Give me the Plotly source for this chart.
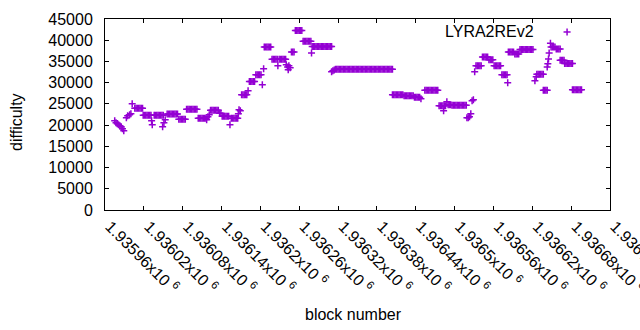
import plotly.graph_objects as go

# block numbers (x) and difficulty (y)
blocks = [
    1935975, 1935977, 1935979, 1935981, 1935983, 1935985, 1935987, 1935989,
    1935993, 1935995, 1935998, 1936000,
    1936002,
    1936006, 1936008, 1936010, 1936012, 1936014, 1936016, 1936018,
    1936019, 1936021, 1936023, 1936025, 1936027, 1936029, 1936031,
    1936032, 1936033,
    1936036, 1936038, 1936040, 1936042, 1936044, 1936046, 1936048, 1936050,
    1936049, 1936051, 1936053,
    1936056, 1936058, 1936060, 1936062, 1936064, 1936066, 1936068, 1936070, 1936072,
    1936074, 1936076, 1936078, 1936080, 1936082, 1936084,
    1936086, 1936088, 1936090, 1936092, 1936094, 1936096, 1936098, 1936100, 1936102,
    1936104, 1936106, 1936108, 1936110, 1936112, 1936114, 1936116,
    1936117, 1936119, 1936121,
    1936123, 1936125, 1936127, 1936129, 1936131, 1936133, 1936135,
    1936137, 1936139,
    1936141, 1936143, 1936145, 1936147, 1936149, 1936151,
    1936153,
    1936155, 1936157, 1936159, 1936161, 1936163, 1936165,
    1936166, 1936167, 1936169,
    1936171, 1936173, 1936175, 1936177, 1936179, 1936181,
    1936183, 1936185, 1936187, 1936189, 1936191,
    1936193, 1936195, 1936197, 1936199, 1936201,
    1936203, 1936205,
    1936206, 1936208, 1936210, 1936212, 1936214, 1936216,
    1936218, 1936220, 1936222, 1936224, 1936226,
    1936227,
    1936229, 1936231, 1936233, 1936235, 1936237, 1936239,
    1936240, 1936242, 1936243, 1936244, 1936246,
    1936248, 1936250, 1936252,
    1936254, 1936256, 1936258, 1936260, 1936262, 1936264,
    1936266, 1936268, 1936270, 1936272, 1936274, 1936276, 1936278,
    1936279,
    1936280, 1936282, 1936284, 1936286, 1936288, 1936290, 1936292, 1936294,
    1936296, 1936298, 1936300, 1936302, 1936304, 1936306, 1936308, 1936310,
    1936310, 1936312, 1936314,
    1936316, 1936318, 1936320, 1936322, 1936324, 1936326, 1936328, 1936330, 1936332,
    1936334, 1936336, 1936338, 1936340, 1936342, 1936344, 1936346, 1936348, 1936350,
    1936352, 1936354, 1936356, 1936358, 1936360, 1936362, 1936364, 1936366, 1936368,
    1936370, 1936372, 1936374, 1936376, 1936378, 1936380, 1936382, 1936384, 1936386,
    1936388, 1936390, 1936392, 1936394, 1936396, 1936398, 1936400, 1936402, 1936404,
    1936404, 1936406, 1936408, 1936410, 1936412, 1936414, 1936416, 1936418, 1936420,
    1936422, 1936424, 1936426, 1936428, 1936430, 1936432, 1936434, 1936436,
    1936438, 1936440, 1936442, 1936444, 1936446, 1936448,
    1936454, 1936456, 1936458, 1936460, 1936462, 1936464, 1936466, 1936468, 1936470, 1936472, 1936474,
    1936476, 1936478, 1936480, 1936482, 1936484, 1936486, 1936483, 1936488,
    1936490, 1936492, 1936494,
    1936496, 1936498, 1936500, 1936502, 1936504, 1936506, 1936508, 1936510, 1936512, 1936514, 1936516, 1936518,
    1936519, 1936521, 1936523, 1936525,
    1936527, 1936529,
    1936531, 1936533, 1936535, 1936537, 1936539, 1936541,
    1936543, 1936545, 1936547, 1936549, 1936551,
    1936553, 1936555, 1936557, 1936559,
    1936561, 1936563, 1936565, 1936567, 1936569, 1936571,
    1936573, 1936575, 1936577, 1936579, 1936581,
    1936582,
    1936583, 1936585, 1936587, 1936589, 1936591,
    1936593, 1936595, 1936597, 1936599,
    1936601, 1936603, 1936605, 1936607, 1936609, 1936611, 1936613, 1936615, 1936617, 1936619, 1936621,
    1936624, 1936626,
    1936627, 1936629, 1936631, 1936633, 1936635, 1936637,
    1936637, 1936639, 1936641, 1936643,
    1936643, 1936644, 1936645, 1936646,
    1936648, 1936649, 1936651, 1936653, 1936655,
    1936657, 1936659, 1936661, 1936663,
    1936663, 1936665, 1936667, 1936669,
    1936670, 1936672, 1936674, 1936676, 1936678, 1936680, 1936682,
    1936682, 1936684, 1936686, 1936688, 1936690, 1936692, 1936694, 1936696,
]

difficulty = [
    21030, 20560, 20330, 20090, 19850, 19620, 19150, 18680,
    21740, 22200, 22440, 22680,
    25030,
    23970, 23970, 23970, 23970, 23970, 23970, 23970,
    22330, 22330, 22330, 22330, 22330, 22330, 22330,
    21000, 20100,
    22330, 22330, 22330, 22330, 22330, 22330, 22330, 22330,
    19620, 20560, 21270,
    22600, 22600, 22600, 22600, 22600, 22600, 22600, 22600, 22600,
    21390, 21390, 21390, 21390, 21390, 21390,
    23740, 23740, 23740, 23740, 23740, 23740, 23740, 23740, 23740,
    21620, 21620, 21620, 21620, 21620, 21620, 21620,
    21270, 21970, 22440,
    23500, 23500, 23500, 23500, 23500, 23500, 23500,
    22800, 22800,
    22090, 22090, 22090, 22090, 22090, 22090,
    20090,
    21620, 21620, 21620, 21620, 21620, 21620,
    22680, 23600, 23400,
    27140, 27140, 27140, 27140, 27140, 28080,
    30300, 30300, 30300, 30300, 30300,
    31840, 31840, 31840, 31840, 31840,
    29490, 33250,
    38420, 38420, 38420, 38420, 38420, 38420,
    35500, 35500, 35500, 35500, 35500,
    33960,
    35500, 35500, 35500, 35500, 35500, 35500,
    34200, 33720, 33020, 34000, 33500,
    37250, 37250, 37250,
    42300, 42300, 42300, 42300, 42300, 42300,
    39760, 39760, 39760, 39760, 39760, 39760, 39760,
    37010,
    38540, 38540, 38540, 38540, 38540, 38540, 38540, 38540,
    38540, 38540, 38540, 38540, 38540, 38540, 38540, 38540,
    32550, 32800, 33000,
    33180, 33180, 33180, 33180, 33180, 33180, 33180, 33180, 33180,
    33180, 33180, 33180, 33180, 33180, 33180, 33180, 33180, 33180,
    33180, 33180, 33180, 33180, 33180, 33180, 33180, 33180, 33180,
    33180, 33180, 33180, 33180, 33180, 33180, 33180, 33180, 33180,
    33180, 33180, 33180, 33180, 33180, 33180, 33180, 33180, 33180,
    27140, 27140, 27140, 27140, 27140, 27140, 27140, 27140, 27140,
    26900, 26900, 26900, 26900, 26900, 26900, 26900, 26900,
    26550, 26550, 26550, 26550, 26550, 26200,
    28200, 28200, 28200, 28200, 28200, 28200, 28200, 28200, 28200, 28200, 28200,
    24560, 24560, 24560, 24560, 24560, 24560, 23380, 25500,
    24800, 24800, 24800,
    24700, 24700, 24700, 24700, 24700, 24700, 24700, 24700, 24700, 24700, 24700, 24700,
    21740, 21740, 21970, 22680,
    25730, 25970,
    32550, 33960, 33960, 33960, 33960, 33960,
    36070, 36070, 36070, 36070, 36070,
    35370, 35370, 35370, 35370,
    33960, 33960, 33960, 33960, 33960, 33960,
    31840, 31840, 31840, 31840, 31840,
    29960,
    37250, 37250, 37250, 37250, 37250,
    36780, 36780, 36780, 36780,
    37800, 37800, 37800, 37800, 37800, 37800, 37800, 37800, 37800, 37800, 37800,
    30430, 31370,
    31960, 31960, 31960, 31960, 31960, 31960,
    28200, 28200, 28200, 28200,
    33720, 34430, 35600, 37010,
    39300, 38420, 38420, 38420, 38420,
    37950, 37950, 37950, 37950,
    35300, 35300, 35300, 35300,
    34500, 34500, 34500, 34500, 34500, 34500, 34500,
    28320, 28320, 28320, 28320, 28320, 28320, 28320, 28320,
]

x_tick_values = [1935960, 1936020, 1936080, 1936140, 1936200, 1936260, 1936320,
                 1936380, 1936440, 1936500, 1936560, 1936620, 1936680, 1936740]
x_tick_labels = ["1.93596", "1.93602", "1.93608", "1.93614", "1.9362", "1.93626", "1.93632",
                 "1.93638", "1.93644", "1.9365", "1.93656", "1.93662", "1.93668", "1.93674"]
y_tick_values = [0, 5000, 10000, 15000, 20000, 25000, 30000, 35000, 40000, 45000]
y_tick_labels = ["0", "5000", "10000", "15000", "20000", "25000", "30000", "35000", "40000", "45000"]

series_name = "LYRA2REv2"
color = "#9400D3"
FONT = "Liberation Sans, Arial, sans-serif"

fig = go.Figure()
fig.add_trace(go.Scatter(
    x=blocks, y=difficulty, mode="markers", name=series_name,
    marker=dict(symbol="cross-thin", size=5, color=color,
                line=dict(color=color, width=1.5)),
))

fig.update_layout(
    width=640, height=330,
    margin=dict(l=105, r=30, t=19, b=120),
    paper_bgcolor="white", plot_bgcolor="white",
    font=dict(family=FONT, size=16, color="black"),
    showlegend=False,
    xaxis=dict(
        range=[1935960, 1936740], automargin=False,
        tickmode="array", tickvals=x_tick_values,
        ticktext=[t + "x10 <sup>6</sup>" for t in x_tick_labels],
        tickangle=45, ticks="inside", ticklen=4, tickcolor="black",
        ticklabeloverflow="allow", ticklabelshift=5,
        showline=True, linecolor="black", linewidth=1, mirror="allticks",
        showgrid=False, zeroline=False,
    ),
    yaxis=dict(
        range=[0, 45000], automargin=False,
        tickmode="array", tickvals=y_tick_values, ticktext=y_tick_labels,
        ticks="inside", ticklen=4, tickcolor="black", ticklabelstandoff=8,
        showline=True, linecolor="black", linewidth=1, mirror="allticks",
        showgrid=False, zeroline=False,
    ),
    annotations=[
        dict(text="block number", xref="paper", yref="paper", x=0.493, y=-0.5457,
             xanchor="center", yanchor="middle", showarrow=False),
        dict(text="difficulty", xref="paper", yref="paper", x=-0.174, y=0.462,
             xanchor="center", yanchor="middle", showarrow=False, textangle=-90),
        dict(text=series_name, xref="paper", yref="paper", x=0.8535, y=0.932,
             xanchor="right", yanchor="middle", showarrow=False),
    ],
    shapes=[
        dict(type="line", xref="paper", yref="paper", x0=0.908, x1=0.922, y0=0.932, y1=0.932,
             line=dict(color=color, width=1.5)),
        dict(type="line", xref="paper", yref="paper", x0=0.915, x1=0.915, y0=0.914, y1=0.950,
             line=dict(color=color, width=1.5)),
    ],
)

fig.write_html("out.html", config={"displayModeBar": False},
               post_script="document.body.style.margin='0';document.body.style.overflow='hidden';")
